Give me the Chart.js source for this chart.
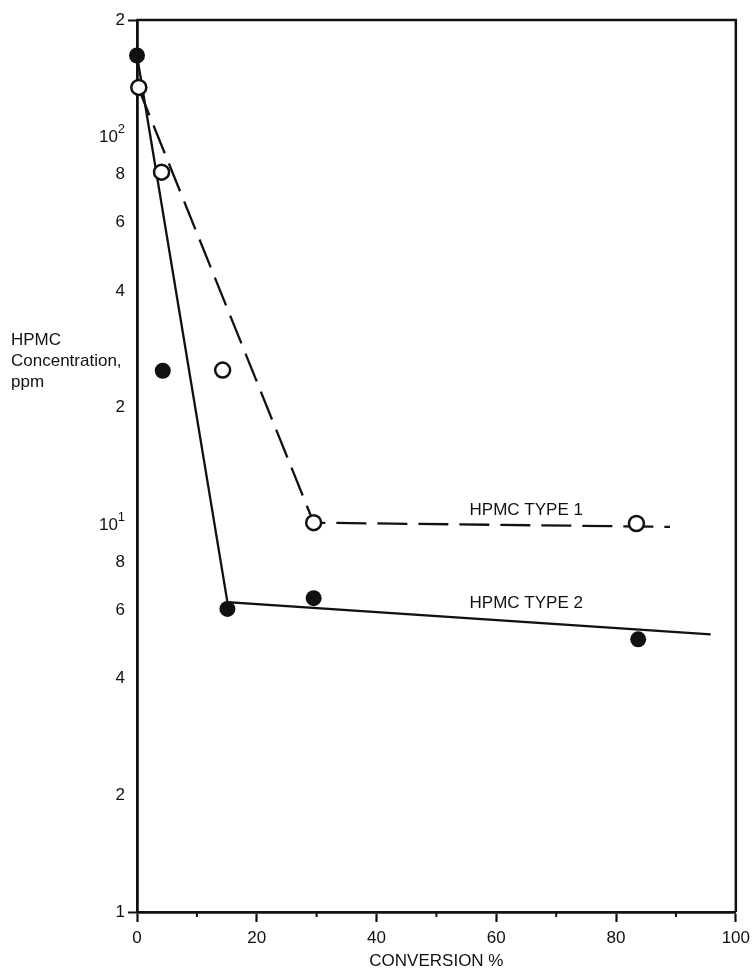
<!DOCTYPE html>
<html>
<head>
<meta charset="utf-8">
<title>HPMC Concentration vs Conversion</title>
<script src="https://cdn.jsdelivr.net/npm/chart.js@4.4.1/dist/chart.umd.min.js"></script>
<style>
  html, body { margin: 0; padding: 0; background: #fff; }
  #wrap { position: relative; width: 756px; height: 972px; }
  #yTitle {
    position: absolute; left: 11px; top: 329px;
    font: 17px "Liberation Sans", Arial, sans-serif;
    line-height: 21px; color: #111;
  }
</style>
</head>
<body>
<div id="wrap">
  <canvas id="chart" width="756" height="972"></canvas>
  <div id="yTitle">HPMC<br>Concentration,<br>ppm</div>
</div>
<script>
// measured points (open circles = type 1, filled = type 2)
const type1X = [0.3, 4.1, 14.3, 29.5, 83.4];
const type1Y = [134, 81, 25, 10.1, 10.05];
const type2X = [0, 4.3, 15.1, 29.5, 83.7];
const type2Y = [162, 24.9, 6.05, 6.45, 5.05];

// hand-drawn fit lines
const type1FitX = [0.2, 29.5, 89];
const type1FitY = [134, 10.1, 9.85];
const type2FitX = [0, 15.1, 95.8];
const type2FitY = [162, 6.3, 5.2];

const xTicks = [0, 20, 40, 60, 80, 100];
const xMinorTicks = [10, 30, 50, 70, 90];
const yTicks = [1, 2, 4, 6, 8, 10, 20, 40, 60, 80, 100, 200];
const yTickLabels = ['1', '2', '4', '6', '8', '10¹', '2', '4', '6', '8', '10²', '2'];
const yMarkedTicks = [1, 200];

const seriesLabels = ['HPMC TYPE 1', 'HPMC TYPE 2'];

const family = '"Liberation Sans", Arial, sans-serif';
const ink = '#111';
const supers = { '¹': '1', '²': '2' };

function toPoints(xs, ys) {
    return xs.map((x, i) => ({ x: x, y: ys[i] }));
}

function isPower(label) {
    return supers[label.slice(-1)] !== undefined;
}

// top/right frame, minor x ticks, power-of-ten labels and the in-plot series labels
const framePlugin = {
    id: 'frame',
    afterDraw(chart) {
        const { ctx, chartArea: a, scales: { x, y } } = chart;
        ctx.save();
        ctx.strokeStyle = ink;
        ctx.lineWidth = 2.5;
        ctx.beginPath();
        ctx.moveTo(a.left, a.top);
        ctx.lineTo(a.right, a.top);
        ctx.lineTo(a.right, a.bottom);
        ctx.stroke();

        ctx.lineWidth = 2;
        xMinorTicks.forEach(v => {
            const px = x.getPixelForValue(v);
            ctx.beginPath();
            ctx.moveTo(px, a.bottom);
            ctx.lineTo(px, a.bottom + 5);
            ctx.stroke();
        });

        ctx.fillStyle = ink;
        ctx.textBaseline = 'middle';

        // 10^n labels with a proper-size exponent
        ctx.textAlign = 'right';
        yTicks.forEach((v, i) => {
            const label = yTickLabels[i];
            if (!isPower(label)) return;
            const py = y.getPixelForValue(v);
            ctx.font = '13px ' + family;
            ctx.fillText(supers[label.slice(-1)], a.left - 12, py - 7);
            ctx.font = '17px ' + family;
            ctx.fillText(label.slice(0, -1), a.left - 19, py + 1);
        });

        ctx.font = '17px ' + family;
        ctx.textAlign = 'center';
        ctx.fillText(seriesLabels[0], x.getPixelForValue(65), y.getPixelForValue(10.9));
        ctx.fillText(seriesLabels[1], x.getPixelForValue(65), y.getPixelForValue(6.27));
        ctx.restore();
    }
};

new Chart(document.getElementById('chart').getContext('2d'), {
    type: 'scatter',
    data: {
        datasets: [
            {
                label: seriesLabels[0],
                data: toPoints(type1X, type1Y),
                pointRadius: 7.5,
                pointBackgroundColor: '#fff',
                pointBorderColor: ink,
                pointBorderWidth: 2.5,
                clip: false
            },
            {
                label: seriesLabels[1],
                data: toPoints(type2X, type2Y),
                pointRadius: 8,
                pointBackgroundColor: ink,
                pointBorderColor: ink,
                pointBorderWidth: 0,
                clip: false
            },
            {
                label: 'type 1 fit',
                data: toPoints(type1FitX, type1FitY),
                showLine: true,
                pointRadius: 0,
                borderColor: ink,
                borderWidth: 2.3,
                borderDash: [30, 11],
                clip: false
            },
            {
                label: 'type 2 fit',
                data: toPoints(type2FitX, type2FitY),
                showLine: true,
                pointRadius: 0,
                borderColor: ink,
                borderWidth: 2.3,
                clip: false
            }
        ]
    },
    options: {
        responsive: false,
        animation: false,
        layout: { padding: { top: 20, right: 18, left: 0, bottom: 0 } },
        plugins: {
            legend: { display: false },
            tooltip: { enabled: false }
        },
        scales: {
            x: {
                type: 'linear',
                min: 0,
                max: 100,
                afterBuildTicks: s => { s.ticks = xTicks.map(v => ({ value: v })); },
                afterFit: s => { s.height = 60; },
                grid: { drawOnChartArea: false, tickLength: 10, tickWidth: 2.2, tickColor: ink },
                border: { display: true, color: ink, width: 2.8 },
                ticks: { color: ink, font: { size: 17, family: family }, padding: 6, maxRotation: 0, autoSkip: false },
                title: { display: true, text: 'CONVERSION %', color: ink, font: { size: 17, family: family }, padding: 0 }
            },
            y: {
                type: 'logarithmic',
                min: 1,
                max: 200,
                afterBuildTicks: s => { s.ticks = yTicks.map(v => ({ value: v })); },
                afterFit: s => { s.width = 137; },
                grid: {
                    drawOnChartArea: false,
                    tickLength: 9,
                    tickWidth: 2,
                    tickColor: c => (c.tick && yMarkedTicks.includes(c.tick.value)) ? ink : 'rgba(0,0,0,0)'
                },
                border: { display: true, color: ink, width: 2.8 },
                ticks: {
                    color: ink,
                    font: { size: 17, family: family },
                    padding: 3,
                    autoSkip: false,
                    callback: v => {
                        const label = yTickLabels[yTicks.indexOf(v)];
                        return isPower(label) ? '' : label;
                    }
                }
            }
        }
    },
    plugins: [framePlugin]
});
</script>
</body>
</html>
